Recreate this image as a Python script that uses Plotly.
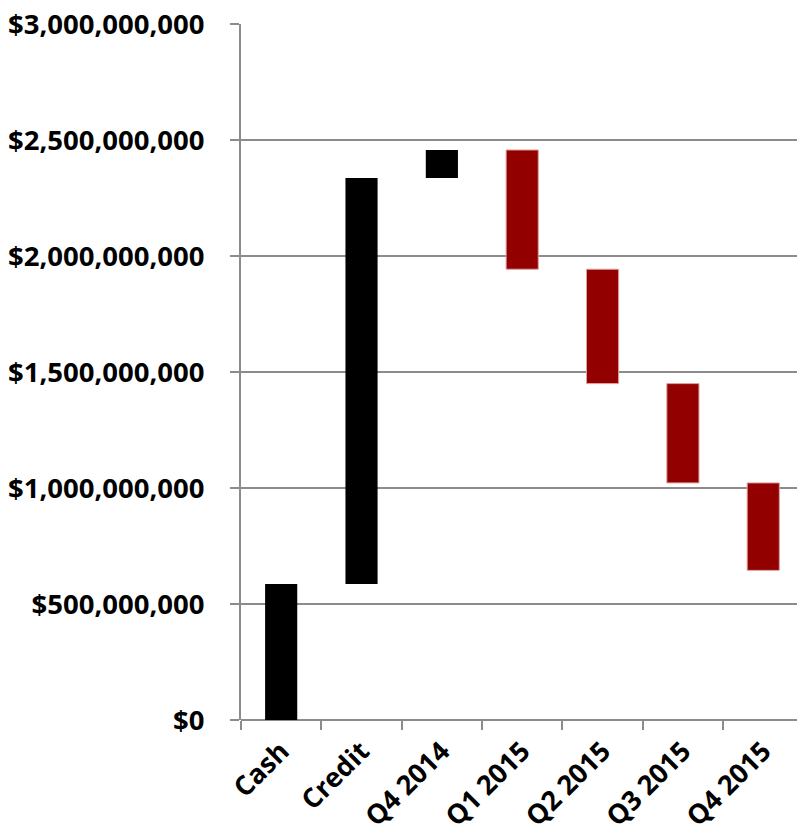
import plotly.graph_objects as go

# Funding waterfall: starting cash, credit line, then quarterly spend
categories = ["Cash", "Credit", "Q4 2014", "Q1 2015", "Q2 2015", "Q3 2015", "Q4 2015"]
changes = [586e6, 1750e6, 121e6, -514e6, -493e6, -428e6, -377e6]
measures = ["relative"] * len(categories)
y_ticks = [0, 500e6, 1000e6, 1500e6, 2000e6, 2500e6, 3000e6]
y_tick_text = ["$0", "$500,000,000", "$1,000,000,000", "$1,500,000,000",
               "$2,000,000,000", "$2,500,000,000", "$3,000,000,000"]

FONT = "Open Sans"
GRID = "#8c8c8c"

fig = go.Figure(go.Waterfall(
    x=categories,
    y=changes,
    measure=measures,
    width=0.4,
    increasing=dict(marker=dict(color="black", line=dict(color="black", width=0))),
    decreasing=dict(marker=dict(color="#930000", line=dict(color="#e0a0a0", width=1))),
    connector=dict(visible=False),
    hoverinfo="x+y",
))

fig.update_layout(
    width=797, height=839,
    margin=dict(l=241, r=0, t=24, b=119),
    paper_bgcolor="white", plot_bgcolor="white",
    showlegend=False,
    font=dict(family=FONT, color="black"),
    xaxis=dict(
        type="category",
        range=[-0.5, 6.42],
        automargin=False,
        tickson="boundaries",
        ticks="outside", ticklen=9, tickcolor=GRID, tickwidth=2,
        tickangle=-45,
        ticklabelstandoff=9,
        tickfont=dict(family=FONT, size=27, color="black", weight="bold"),
        showline=False, showgrid=False,
    ),
    yaxis=dict(
        range=[0, 3.0e9],
        automargin=False,
        tickvals=y_ticks, ticktext=y_tick_text,
        ticks="outside", ticklen=9, tickcolor=GRID, tickwidth=2,
        ticklabelstandoff=20,
        tickfont=dict(family=FONT, size=27.5, color="black", weight="bold"),
        showgrid=True, gridcolor=GRID, gridwidth=2,
        showline=True, linecolor=GRID, linewidth=2,
        zeroline=True, zerolinecolor=GRID, zerolinewidth=2,
    ),
)

fig.write_html("out.html")
